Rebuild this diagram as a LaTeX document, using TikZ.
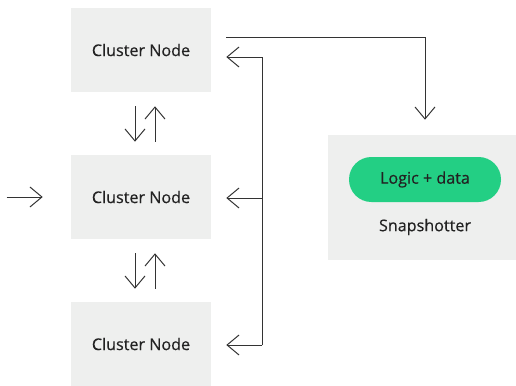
\documentclass[tikz,border=0pt]{standalone}
\usepackage{fontspec}
\setmainfont{Open Sans}[FakeBold=0.5]
\usetikzlibrary{arrows.meta,calc}
\definecolor{boxgray}{HTML}{EEEFEE}
\definecolor{pillgreen}{HTML}{23CF84}
\definecolor{ink}{HTML}{222222}
\definecolor{wire}{HTML}{333333}
\tikzset{
  txt/.style={text=ink, font=\fontsize{12.1}{14}\selectfont},
  clusterbox/.style={txt, fill=boxgray, minimum width=105pt, minimum height=63pt},
  snapbox/.style={fill=boxgray, minimum width=141pt, minimum height=93.75pt},
  pill/.style={txt, fill=pillgreen, rounded corners=16.8pt, minimum width=114pt, minimum height=33.75pt},
  wireline/.style={draw=wire, line width=0.75pt},
  arr/.style={wireline, -{Straight Barb[length=9pt,width=15pt,line width=0.75pt]}}
}
\begin{document}
\begin{tikzpicture}[x=0.75pt,y=-0.75pt]
  \useasboundingbox (0,0) rectangle (516,385);

  % cluster nodes and snapshotter
  \node[clusterbox] (n1) at (141,50) {Cluster Node};
  \node[clusterbox] (n2) at (141,197) {Cluster Node};
  \node[clusterbox] (n3) at (141,344) {Cluster Node};
  \node[snapbox] (snap) at (422,197.5) {};
  \node[pill] (logic) at (425,179.5) {Logic + data};
  \node[txt] (snaplabel) at (425,227) {Snapshotter};

  % incoming request
  \coordinate (in0) at ([xshift=-48pt]n2.west);
  \draw[arr] (in0) -- ([xshift=-21pt]n2.west);

  % replication between neighbouring nodes
  \draw[arr] ([xshift=-4.5pt,yshift=-10.5pt]n1.south) -- ([xshift=-4.5pt,yshift=9.75pt]n2.north);
  \draw[arr] ([xshift=10.5pt,yshift=9.75pt]n2.north) -- ([xshift=10.5pt,yshift=-10.5pt]n1.south);
  \draw[arr] ([xshift=-4.5pt,yshift=-10.5pt]n2.south) -- ([xshift=-4.5pt,yshift=9.75pt]n3.north);
  \draw[arr] ([xshift=10.5pt,yshift=9.75pt]n3.north) -- ([xshift=10.5pt,yshift=-10.5pt]n2.south);

  % state sent to the snapshotter
  \draw[arr] ([xshift=11.25pt,yshift=9pt]n1.east) -| ([xshift=2.25pt,yshift=11.25pt]snap.north);

  % snapshot fed back to every node
  \coordinate (b1) at ([xshift=38.25pt,yshift=-5.25pt]n1.east);
  \coordinate (b2) at ([xshift=38.25pt,yshift=-0.75pt]n2.east);
  \coordinate (b3) at ([xshift=38.25pt,yshift=-0.75pt]n3.east);
  \draw[wireline] (b1) -- (b3);
  \draw[arr] (b1) -- ([xshift=11.25pt,yshift=-5.25pt]n1.east);
  \draw[arr] (b2) -- ([xshift=11.25pt,yshift=-0.75pt]n2.east);
  \draw[arr] (b3) -- ([xshift=11.25pt,yshift=-0.75pt]n3.east);
\end{tikzpicture}
\end{document}
